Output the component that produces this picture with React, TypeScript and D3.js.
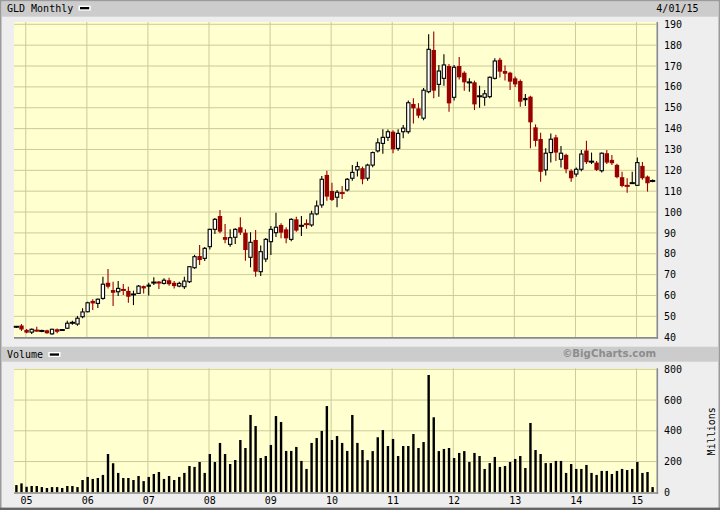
import React from "react";
import * as d3 from "d3";

// ---- data (GLD monthly, Nov 2004 – Apr 2015) ----
const startDate = new Date(2004, 10, 1);

const opens = [
  44.9, 45.6, 43.5, 42.4, 43.4, 42.9, 43.3, 41.6, 43.8, 43.3,
  44.3, 46.8, 46.3, 49.8, 52.2, 57.4, 56.2, 58.6, 66.1, 62.6,
  61.8, 63.0, 62.2, 60.4, 61.0, 64.5, 64.2, 65.8, 66.6, 65.8,
  67.3, 66.1, 64.5, 64.2, 66.6, 73.3, 78.9, 77.8, 83.4, 91.7,
  98.1, 88.0, 84.5, 87.9, 92.7, 90.1, 78.3, 86.6, 71.4, 77.5,
  85.8, 90.1, 93.8, 91.7, 86.9, 96.5, 93.0, 94.6, 93.8, 99.1,
  103.4, 117.8, 110.1, 107.1, 109.5, 110.6, 116.2, 120.2, 121.0, 116.2,
  122.5, 129.3, 132.9, 135.8, 138.5, 130.5, 138.5, 138.5, 151.8, 149.7,
  145.0, 157.7, 177.7, 161.2, 164.1, 170.0, 155.0, 170.0, 166.8, 162.0,
  162.2, 155.4, 155.0, 155.3, 164.1, 173.0, 167.6, 166.8, 164.1, 162.8,
  153.6, 155.3, 140.6, 135.0, 120.2, 128.5, 135.8, 125.3, 127.4, 119.8,
  118.2, 120.5, 129.5, 124.0, 123.7, 119.8, 128.2, 125.0, 122.6, 116.7,
  113.0, 113.6, 112.8, 122.1, 117.0, 114.6,
];

const highs = [
  45.4, 46.3, 43.9, 44.2, 45.0, 43.6, 43.6, 44.0, 44.2, 43.9,
  47.9, 47.9, 50.2, 53.9, 57.0, 58.2, 58.6, 69.0, 72.7, 66.6,
  66.9, 65.5, 64.2, 62.3, 65.0, 64.8, 66.1, 68.7, 67.0, 68.2,
  68.5, 66.9, 66.6, 69.0, 74.1, 79.5, 84.2, 83.2, 92.0, 97.2,
  101.0, 94.3, 91.7, 92.2, 97.5, 91.7, 90.3, 91.4, 84.0, 87.5,
  93.3, 99.7, 94.6, 92.7, 97.0, 97.8, 98.1, 96.5, 100.6, 105.5,
  117.3, 119.8, 114.1, 110.6, 112.5, 116.3, 122.5, 124.1, 121.8, 123.2,
  129.0, 135.4, 139.7, 139.6, 139.2, 139.7, 141.7, 153.5, 154.6, 152.2,
  159.5, 185.2, 186.5, 170.5, 175.7, 171.0, 170.5, 174.3, 167.5, 164.1,
  163.0, 160.6, 158.5, 165.0, 173.7, 174.0, 170.3, 167.2, 165.0, 163.5,
  156.6, 155.8, 142.0, 138.0, 130.6, 137.7, 137.0, 131.7, 128.0, 120.5,
  121.4, 129.7, 134.2, 128.5, 124.5, 128.6, 129.7, 127.4, 123.2, 119.3,
  116.2, 119.3, 126.1, 124.0, 117.5, 115.6,
];

const lows = [
  44.4, 43.0, 41.9, 41.5, 42.6, 42.4, 41.6, 41.2, 41.9, 43.0,
  43.9, 46.0, 45.5, 49.1, 52.0, 53.0, 54.0, 58.0, 63.4, 55.0,
  59.8, 60.2, 56.5, 55.4, 60.7, 61.0, 60.0, 65.0, 63.1, 65.3,
  64.7, 63.4, 64.0, 63.1, 66.0, 72.8, 74.6, 76.5, 82.0, 89.5,
  89.8, 85.0, 83.4, 84.7, 89.0, 76.7, 73.5, 69.0, 69.3, 76.0,
  79.4, 88.0, 87.4, 85.0, 86.0, 90.6, 88.5, 92.0, 93.0, 98.5,
  102.0, 105.4, 105.3, 102.3, 106.3, 109.8, 115.0, 117.0, 113.3, 115.0,
  121.5, 128.5, 128.0, 134.0, 128.2, 129.4, 135.4, 137.5, 142.5, 145.0,
  144.0, 157.0, 154.5, 155.3, 160.5, 148.1, 153.5, 163.5, 158.2, 157.7,
  148.9, 150.0, 151.0, 154.5, 163.5, 164.5, 163.0, 158.5, 160.0, 150.5,
  150.8, 130.6, 131.4, 114.5, 117.5, 123.7, 124.5, 121.4, 118.6, 114.5,
  116.9, 119.5, 123.0, 123.0, 119.7, 119.0, 123.0, 122.5, 116.2, 111.9,
  109.3, 113.4, 112.5, 115.5, 109.8, 114.3,
];

const closes = [
  45.1, 43.7, 42.2, 43.8, 42.9, 43.1, 41.9, 43.8, 42.6, 43.6,
  46.7, 47.0, 49.1, 52.1, 56.5, 56.2, 58.2, 65.4, 64.2, 61.3,
  63.4, 62.3, 59.4, 60.6, 64.5, 63.4, 65.2, 66.6, 65.8, 67.3,
  65.4, 64.5, 65.8, 66.9, 73.8, 78.6, 77.0, 82.6, 91.7, 96.5,
  90.6, 86.7, 87.7, 91.7, 90.1, 81.8, 85.5, 71.4, 81.0, 86.9,
  91.7, 92.7, 90.1, 87.4, 96.5, 91.1, 93.8, 93.8, 99.1, 102.9,
  115.7, 107.4, 105.8, 109.5, 108.7, 115.7, 119.0, 121.8, 115.7, 122.5,
  128.5, 133.2, 135.8, 138.5, 130.1, 137.7, 140.2, 152.4, 149.7, 146.2,
  158.4, 178.0, 158.2, 167.6, 170.5, 152.1, 169.4, 164.6, 162.2, 162.3,
  151.6, 155.6, 156.7, 164.6, 172.4, 167.3, 166.3, 162.5, 161.2, 152.9,
  154.7, 143.0, 134.1, 119.3, 128.2, 134.9, 128.5, 128.2, 120.5, 116.2,
  120.5, 127.8, 123.9, 124.3, 120.2, 128.2, 123.7, 123.4, 116.7, 112.5,
  112.1, 114.1, 123.7, 116.2, 113.8, 115.2,
];

// volume in millions of shares
const volumes = [
  47, 58, 36, 41, 41, 34, 28, 34, 34, 28,
  41, 41, 34, 80, 100, 87, 93, 113, 249, 189,
  126, 93, 93, 80, 106, 73, 100, 119, 132, 87,
  106, 80, 100, 126, 171, 165, 197, 126, 249, 197,
  321, 249, 184, 210, 340, 288, 503, 431, 223, 236,
  308, 496, 457, 269, 269, 295, 204, 152, 321, 353,
  399, 561, 340, 366, 321, 269, 503, 321, 275, 209,
  268, 358, 405, 301, 347, 236, 301, 301, 379, 288,
  327, 763, 488, 268, 282, 288, 223, 256, 268, 197,
  256, 236, 152, 190, 230, 165, 171, 197, 217, 236,
  158, 451, 275, 249, 190, 190, 204, 204, 126, 184,
  152, 152, 178, 126, 113, 139, 139, 119, 139, 152,
  145, 152, 197, 126, 132, 34,
];

const priceTicks = [40, 50, 60, 70, 80, 90, 100, 110, 120, 130, 140, 150, 160, 170, 180, 190];
const volumeTicks = [0, 200, 400, 600, 800];
const chartTitle = "GLD Monthly";
const dateLabel = "4/01/15";
const volumeTitle = "Volume";
const volumeUnit = "Millions";
const credit = "\u00A9BigCharts.com";

const FONT = "'DejaVu Sans Mono', monospace";
const RED = "#990000";
const GRID = "#CCCC99";
const PLOT_BG = "#FFFFCF";

export default function App() {
  const n = opens.length;
  const months = d3.range(n).map((i) => d3.timeMonth.offset(startDate, i));
  const x = d3.scaleLinear().domain([0, n - 1]).range([16.4, 652.6]);
  const yP = d3.scaleLinear().domain([40, 190]).range([337.2, 24.3]);
  const yV = d3.scaleLinear().domain([0, 800]).range([492.3, 369.3]);
  const yearIdx = months.map((d, i) => (d.getMonth() === 0 ? i : -1)).filter((i) => i >= 0);
  const fmtYear = d3.timeFormat("%y");

  const plotL = 14;
  const plotR = 656.5;
  const pTop = 22;
  const pBot = 337.2;
  const vTop = 368.3;
  const vBot = 492.3;
  const bodyW = 4.4;

  return (
    <svg
      width={720}
      height={510}
      style={{ position: "absolute", left: 0, top: 0, display: "block" }}
      fontFamily={FONT}
    >
      {/* page background + frame */}
      <rect x={0} y={0} width={720} height={510} fill="#EEEEEE" />
      <rect x={0.75} y={0.75} width={718.5} height={508} fill="none" stroke="#9A9A9A" strokeWidth={1.5} />
      <rect x={0} y={507.6} width={720} height={2.4} fill="#666666" />

      {/* header bars */}
      <rect x={2} y={2} width={716} height={14.7} fill="#CCCCCC" />
      <rect x={2} y={346.7} width={716} height={15} fill="#CCCCCC" />

      <text x={7} y={12.4} fontSize={10} fill="#000">{chartTitle}</text>
      <rect x={78.5} y={5.6} width={12.2} height={5} fill="#fff" />
      <rect x={80} y={7} width={9.2} height={2.3} fill="#000" />
      <text x={698.5} y={12.2} fontSize={10} textAnchor="end" fill="#000">{dateLabel}</text>

      <text x={7} y={357.8} fontSize={10} fill="#000">{volumeTitle}</text>
      <rect x={48.3} y={352} width={12.2} height={5} fill="#fff" />
      <rect x={49.8} y={353.4} width={9.2} height={2.3} fill="#000" />
      <text
        x={656}
        y={357.4}
        fontSize={10.2}
        fontWeight="bold"
        textAnchor="end"
        fill="#8C8C8C"
        fontFamily="'DejaVu Sans', sans-serif"
      >
        {credit}
      </text>

      {/* plot backgrounds */}
      <rect x={plotL} y={pTop} width={plotR - plotL} height={pBot - pTop} fill={PLOT_BG} />
      <rect x={plotL} y={vTop} width={plotR - plotL} height={vBot - vTop} fill={PLOT_BG} />

      {/* price gridlines */}
      {priceTicks.slice(1).map((t) => (
        <line key={"pg" + t} x1={plotL} x2={plotR} y1={yP(t)} y2={yP(t)} stroke={GRID} strokeWidth={1} />
      ))}
      {yearIdx.map((i) => (
        <line key={"pv" + i} x1={x(i) - 0.8} x2={x(i) - 0.8} y1={pTop} y2={pBot} stroke={GRID} strokeWidth={1} />
      ))}

      {/* volume gridlines */}
      {volumeTicks.slice(1).map((t) => (
        <line key={"vg" + t} x1={plotL} x2={plotR} y1={yV(t)} y2={yV(t)} stroke={GRID} strokeWidth={1} />
      ))}
      {yearIdx.map((i) => (
        <line key={"vv" + i} x1={x(i) - 0.8} x2={x(i) - 0.8} y1={vTop} y2={vBot} stroke={GRID} strokeWidth={1} />
      ))}

      {/* candlesticks */}
      {opens.map((o, i) => {
        const c = closes[i];
        const up = c >= o;
        const cx = x(i);
        const color = up ? "#000" : RED;
        const top = yP(Math.max(o, c));
        const bot = yP(Math.min(o, c));
        const h = bot - top;
        return (
          <g key={"c" + i}>
            <line x1={cx} x2={cx} y1={yP(highs[i])} y2={yP(lows[i])} stroke={color} strokeWidth={1.1} />
            {up && h >= 2.5 ? (
              <rect
                x={cx - bodyW / 2 + 0.55}
                y={top}
                width={bodyW - 1.1}
                height={h}
                fill="#fff"
                stroke="#000"
                strokeWidth={1.1}
              />
            ) : h < 2 ? (
              <rect x={cx - 2.6} y={(top + bot) / 2 - 1} width={5.2} height={2} fill={color} />
            ) : (
              <rect x={cx - bodyW / 2} y={top} width={bodyW} height={h} fill={color} />
            )}
          </g>
        );
      })}

      {/* volume bars */}
      {volumes.map((v, i) => (
        <rect key={"v" + i} x={x(i) - 1.2} y={yV(v)} width={2.4} height={vBot - yV(v)} fill="#000" />
      ))}

      {/* plot shadows (right/bottom) */}
      <line x1={plotR + 0.8} x2={plotR + 0.8} y1={pTop} y2={pBot + 1.5} stroke="#8A8A8A" strokeWidth={1.6} />
      <line x1={plotL} x2={plotR + 1.6} y1={pBot + 0.7} y2={pBot + 0.7} stroke="#8A8A8A" strokeWidth={1.6} />
      <line x1={plotR + 0.8} x2={plotR + 0.8} y1={vTop} y2={vBot + 1.5} stroke="#8A8A8A" strokeWidth={1.6} />
      <line x1={plotL} x2={plotR + 1.6} y1={vBot + 0.7} y2={vBot + 0.7} stroke="#8A8A8A" strokeWidth={1.6} />

      {/* price axis labels */}
      {priceTicks.map((t) => (
        <text key={"pl" + t} x={664} y={yP(t)} dy="0.36em" fontSize={10} fill="#000">
          {t}
        </text>
      ))}

      {/* volume axis labels */}
      {volumeTicks.map((t) => (
        <text key={"vl" + t} x={664} y={yV(t)} dy="0.36em" fontSize={10} fill="#000">
          {t}
        </text>
      ))}
      <text
        transform={`translate(711,${(vTop + vBot) / 2 + 1}) rotate(-90)`}
        textAnchor="middle"
        dy="0.36em"
        fontSize={10}
        fill="#000"
      >
        {volumeUnit}
      </text>

      {/* year labels */}
      {yearIdx.map((i) => (
        <text key={"yl" + i} x={x(i)} y={503.5} fontSize={10} textAnchor="middle" fill="#000">
          {fmtYear(months[i])}
        </text>
      ))}
    </svg>
  );
}
